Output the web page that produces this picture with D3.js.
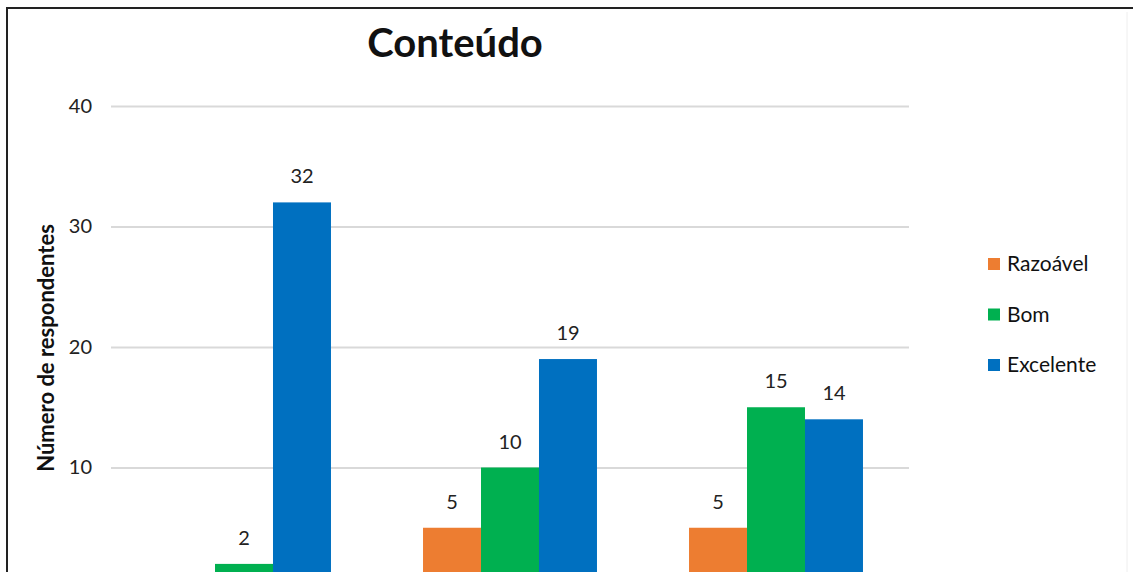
<!DOCTYPE html>
<html>
<head>
<meta charset="utf-8">
<script src="https://cdn.jsdelivr.net/npm/d3@7"></script>
<style>
	html, body { margin: 0; padding: 0; background: #fff; overflow: hidden; }
	svg { display: block; font-family: Lato, 'Open Sans', sans-serif; }
</style>
</head>
<body>
<svg width="1133" height="572"></svg>
<script>
var categories = ['Grupo 1', 'Grupo 2', 'Grupo 3'];
var seriesNames = ['Razoável', 'Bom', 'Excelente'];
var razoavel = [null, 5, 5];
var bom = [2, 10, 15];
var excelente = [32, 19, 14];
var yTicks = [10, 20, 30, 40];
var colors = ['#ED7D31', '#00B050', '#0070C0'];

var seriesValues = [razoavel, bom, excelente];

function render() {
	var svg = d3.select('svg');

	var x = d3.scaleBand()
		.domain(categories)
		.range([111, 909])
		.paddingInner(0.346)
		.paddingOuter(0.173);

	var xs = d3.scaleBand()
		.domain(seriesNames)
		.range([0, x.bandwidth()]);

	var y = d3.scaleLinear()
		.domain([0, 40])
		.range([588, 106]);

	// frame
	svg.append('line')
		.attr('x1', 7).attr('x2', 1133).attr('y1', 8).attr('y2', 8)
		.attr('stroke', '#222').attr('stroke-width', 2);
	svg.append('line')
		.attr('x1', 7).attr('x2', 7).attr('y1', 7).attr('y2', 572)
		.attr('stroke', '#222').attr('stroke-width', 2);
	svg.append('line')
		.attr('x1', 1127).attr('x2', 1127).attr('y1', 12).attr('y2', 572)
		.attr('stroke', '#eee').attr('stroke-width', 1);

	// grid + y labels
	var yAxis = d3.axisLeft(y)
		.tickValues(yTicks)
		.tickSize(-(909 - 111))
		.tickPadding(19);

	var ga = svg.append('g')
		.attr('transform', 'translate(111,0)')
		.call(yAxis);
	ga.select('.domain').remove();
	ga.selectAll('.tick line').attr('stroke', '#d9d9d9').attr('stroke-width', 2);
	ga.selectAll('.tick text')
		.attr('fill', '#222')
		.style('font-size', '20px')
		.style('font-family', 'Lato, sans-serif');

	// bars
	var groups = svg.append('g').selectAll('g')
		.data(categories)
		.enter().append('g')
		.attr('transform', function(d) { return 'translate(' + x(d) + ',0)'; });

	groups.each(function(cat, ci) {
		var g = d3.select(this);
		var items = seriesNames.map(function(s, si) {
			return {name: s, value: seriesValues[si][ci], color: colors[si]};
		}).filter(function(d) { return d.value !== null; });

		g.selectAll('rect')
			.data(items)
			.enter().append('rect')
			.attr('x', function(d) { return xs(d.name); })
			.attr('width', xs.bandwidth())
			.attr('y', function(d) { return y(d.value); })
			.attr('height', function(d) { return y(0) - y(d.value); })
			.attr('fill', function(d) { return d.color; });

		g.selectAll('text')
			.data(items)
			.enter().append('text')
			.attr('x', function(d) { return xs(d.name) + xs.bandwidth() / 2; })
			.attr('y', function(d) { return y(d.value) - 19; })
			.attr('text-anchor', 'middle')
			.attr('fill', '#222')
			.style('font-size', '20px')
			.text(function(d) { return d.value; });
	});

	// title
	svg.append('text')
		.attr('x', 455).attr('y', 57)
		.attr('text-anchor', 'middle')
		.attr('fill', '#111')
		.style('font-size', '40px')
		.style('font-weight', 'bold')
		.text('Conteúdo');

	// y title
	svg.append('text')
		.attr('transform', 'translate(54,348) rotate(-90)')
		.attr('text-anchor', 'middle')
		.attr('fill', '#111')
		.style('font-size', '22px')
		.style('font-weight', 'bold')
		.text('Número de respondentes');

	// legend
	var legY = d3.scalePoint()
		.domain(seriesNames)
		.range([264, 365]);

	var leg = svg.append('g').selectAll('g')
		.data(seriesNames)
		.enter().append('g')
		.attr('transform', function(d) { return 'translate(988,' + legY(d) + ')'; });
	leg.append('rect')
		.attr('x', 0).attr('y', -6)
		.attr('width', 12).attr('height', 12)
		.attr('fill', function(d, i) { return colors[i]; });
	leg.append('text')
		.attr('x', 19).attr('y', 0)
		.attr('dy', '0.35em')
		.attr('fill', '#111')
		.style('font-size', '21px')
		.text(function(d) { return d; });
}

render();
</script>
</body>
</html>
